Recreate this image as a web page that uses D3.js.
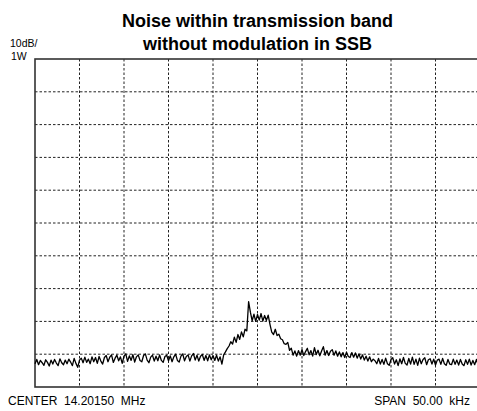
<!DOCTYPE html>
<html><head><meta charset="utf-8">
<script src="https://cdn.jsdelivr.net/npm/d3@7"></script>
<style>
html,body{margin:0;padding:0;background:#fff;}
svg{display:block;font-family:"Liberation Sans",Arial,Helvetica,sans-serif;}
</style></head>
<body>
<svg id="chart" width="477" height="411"></svg>
<script>
// Frequency span (kHz offset from center) and level range (dB rel. 1W)
const freqDomain = [-25, 25];
const levelDomain = [-100, 0];
const freqStep = 0.2;
const titleLines = ["Noise within transmission band", "without modulation in SSB"];
const scaleLabels = ["10dB/", "1W"];
const centerLabel = "CENTER  14.20150  MHz";
const spanLabel = "SPAN  50.00  kHz";
const gridX = [-20, -15, -10, -5, 0, 5, 10, 15, 20];
const gridY = [-10, -20, -30, -40, -50, -60, -70, -80, -90];

// Trace levels (dB), one per 0.2 kHz from -25 to +25 kHz
const traceLevels = [
-92.9,-91.6,-93.2,-91.9,-92.6,-93.4,-91.7,-92.5,-93.6,-91.8,
-93.0,-91.6,-92.7,-93.5,-91.4,-92.6,-93.2,-91.8,-92.9,-91.5,
-92.4,-93.5,-91.3,-92.8,-94.0,-91.8,-91.2,-92.6,-90.9,-92.5,
-91.5,-92.9,-90.8,-92.3,-91.0,-92.8,-90.7,-92.1,-93.0,-91.0,
-90.4,-92.3,-90.9,-90.2,-92.5,-91.2,-90.3,-92.0,-90.8,-92.8,
-90.6,-89.9,-92.2,-90.5,-91.9,-90.1,-92.4,-90.8,-90.2,-91.9,
-92.3,-90.4,-89.9,-91.8,-92.6,-90.9,-90.3,-92.1,-90.6,-92.0,
-90.2,-91.9,-92.5,-90.7,-90.3,-92.0,-90.5,-92.3,-90.8,-90.0,
-91.9,-92.4,-90.6,-89.9,-92.0,-90.7,-90.2,-92.1,-90.5,-89.8,
-91.8,-90.3,-92.1,-90.6,-90.1,-91.9,-90.4,-92.0,-90.2,-91.7,
-90.4,-91.9,-90.3,-92.1,-90.8,-93.0,-90.2,-89.3,-88.3,-87.5,
-86.2,-86.9,-84.8,-86.4,-84.0,-85.5,-83.2,-84.7,-82.4,-82.9,
-74.0,-77.2,-79.8,-77.8,-80.0,-77.9,-79.6,-77.6,-79.9,-78.2,
-79.7,-78.1,-80.9,-83.3,-84.0,-82.4,-84.3,-83.9,-85.3,-85.6,
-86.8,-87.0,-86.4,-88.8,-88.2,-90.3,-89.0,
-90.6,-88.9,-90.3,-88.6,-90.4,-89.2,-88.2,-90.2,-88.9,-90.6,
-88.0,-90.1,-88.8,-90.5,-89.0,-87.7,-90.3,-88.9,-90.4,-89.1,
-88.6,-90.3,-89.0,-90.6,-89.3,-90.8,-89.5,-91.0,-89.4,-90.7,
-91.0,-89.5,-90.9,-89.6,-91.2,-89.9,-91.5,-90.2,-91.8,-90.6,
-92.1,-90.8,-92.3,-91.5,-92.0,-92.9,-91.3,-93.0,-91.6,-93.1,
-91.2,-92.9,-93.4,-91.6,-91.1,-93.0,-91.7,-93.5,-91.4,-92.9,
-91.0,-92.8,-93.3,-91.3,-93.0,-90.9,-93.1,-91.5,-93.4,-91.2,
-92.9,-91.6,-91.1,-93.2,-91.7,-91.4,-93.0,-91.5,-93.3,-91.8,
-91.5,-93.1,-91.3,-92.9,-93.4,-91.6,-93.0,-93.2,-91.5,-93.1,
-91.8,-93.3,-91.6,-93.0,-93.5,-91.7,-93.1,-91.5,-93.3,-91.9,
-93.2,-91.6,-93.4,-92.0
];

const svg = d3.select("#chart");
const x = d3.scaleLinear().domain(freqDomain).range([35, 480]);
const y = d3.scaleLinear().domain(levelDomain).range([387, 59]);

// Title
svg.selectAll("text.title").data(titleLines).join("text")
  .attr("class", "title")
  .attr("x", 257.5).attr("y", (d, i) => 27 + i * 23)
  .attr("text-anchor", "middle")
  .attr("font-size", 18).attr("font-weight", "bold").attr("fill", "#000")
  .text(d => d);

// Scale labels
svg.append("text").attr("x", 10).attr("y", 47).attr("font-size", 10.5).text(scaleLabels[0]);
svg.append("text").attr("x", 11).attr("y", 60).attr("font-size", 10.5).text(scaleLabels[1]);

// Grid
const g = svg.append("g");
g.selectAll("line.gx").data(gridX).join("line")
  .attr("x1", d => x(d)).attr("x2", d => x(d))
  .attr("y1", y(0)).attr("y2", y(-100))
  .attr("stroke", "#222").attr("stroke-width", 1).attr("stroke-dasharray", "2.5,2");
g.selectAll("line.gy").data(gridY).join("line")
  .attr("y1", d => y(d)).attr("y2", d => y(d))
  .attr("x1", x(-25)).attr("x2", x(25))
  .attr("stroke", "#222").attr("stroke-width", 1).attr("stroke-dasharray", "2.5,2");

// Frame
svg.append("rect")
  .attr("x", x(-25)).attr("y", y(0))
  .attr("width", x(25) - x(-25)).attr("height", y(-100) - y(0))
  .attr("fill", "none").attr("stroke", "#333").attr("stroke-width", 1.6);

// Trace
const line = d3.line()
  .x((d, i) => x(freqDomain[0] + i * freqStep))
  .y(d => y(d));
svg.append("path").datum(traceLevels)
  .attr("d", line).attr("fill", "none")
  .attr("stroke", "#000").attr("stroke-width", 1.3).attr("stroke-linejoin", "round");

// Bottom labels
svg.append("text").attr("x", 8).attr("y", 405).attr("font-size", 12)
  .style("white-space", "pre").text(centerLabel);
svg.append("text").attr("x", 470).attr("y", 405).attr("font-size", 12)
  .attr("text-anchor", "end").style("white-space", "pre").text(spanLabel);
</script>
</body></html>
